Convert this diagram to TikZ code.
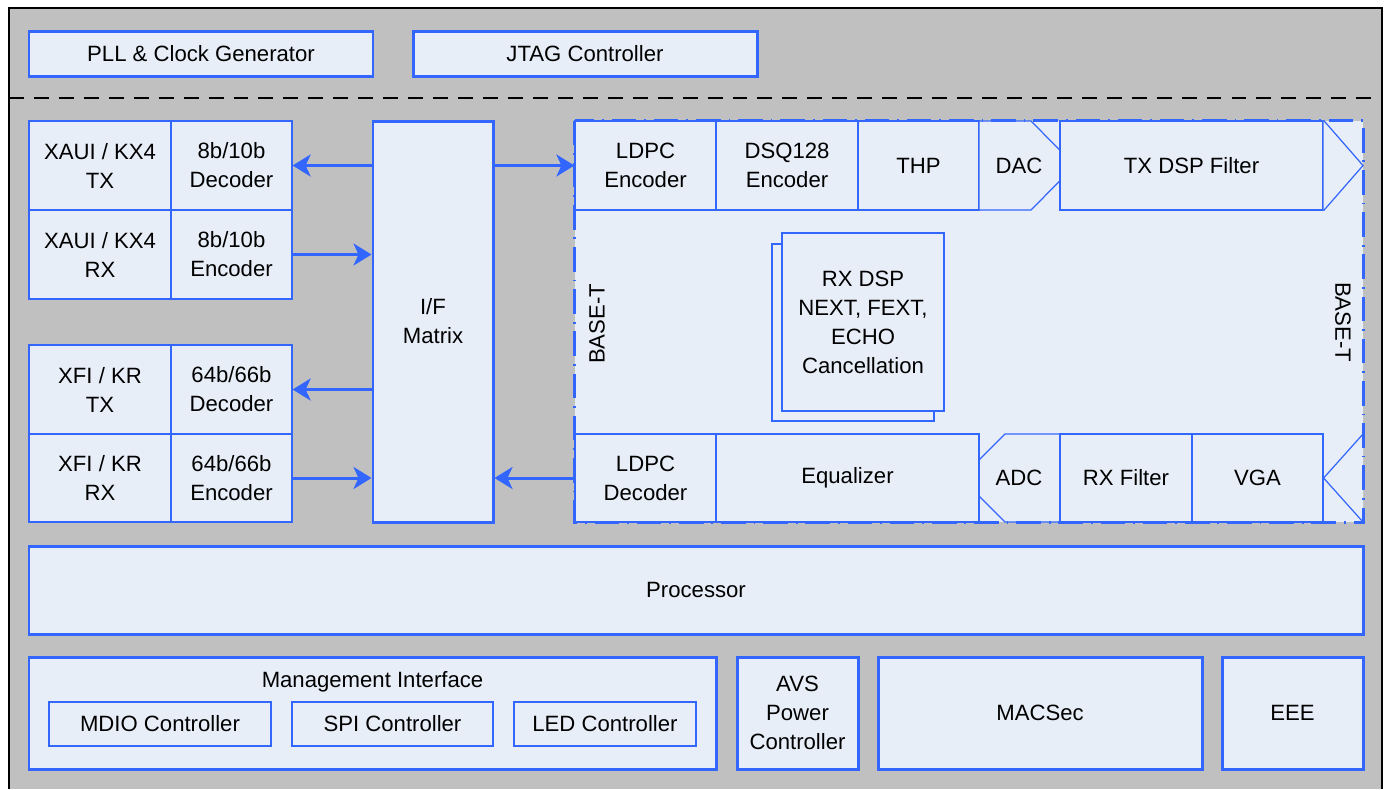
\documentclass[tikz,border=0pt]{standalone}
\usepackage{fontspec}
\setmainfont{Liberation Sans}
\usepackage{tikz}
\usetikzlibrary{arrows.meta}
\usepackage{xcolor}
\definecolor{chipblue}{RGB}{51,102,255}
\definecolor{chipfill}{RGB}{232,238,248}
\definecolor{chipgray}{RGB}{192,192,192}

\begin{document}
\begin{tikzpicture}[
    x=0.02cm, y=-0.02cm,
    thk/.style={draw=chipblue, fill=chipfill, line width=1.7pt, inner sep=0pt, align=center},
    thn/.style={draw=chipblue, fill=chipfill, line width=0.7pt, inner sep=0pt, align=center},
    wh/.style 2 args={minimum width=#1*0.02cm, minimum height=#2*0.02cm},
    lbl/.style={inner sep=0pt, align=center},
    link/.style={draw=chipblue, line width=1.7pt,
                 -{Stealth[length=3.6mm, width=4.4mm, inset=1mm]}},
    basetline/.style={draw=chipblue, line width=1.7pt,
                 dash pattern=on 14pt off 4.5pt on 1pt off 4.5pt},
    font=\fontsize{12.6}{16.5}\selectfont
]
\useasboundingbox (0,0) rectangle (1385,789);

% Chip outline and divider
\fill[chipgray] (9,8) rectangle (1382,789);
\draw[line width=1.1pt] (9,789) -- (9,8) -- (1382,8) -- (1382,789);
\draw[line width=1.1pt, dash pattern=on 8.5pt off 5.7pt] (9,98) -- (1382,98);

% Clock and test row
\node[thk, wh={344}{45}] (pll)  at (201,53.5) {PLL \& Clock Generator};
\node[thk, wh={344}{45}] (jtag) at (585,53.5) {JTAG Controller};

% XAUI / KX4 block
\node[thn, wh={142}{89}] (xautx) at (100,165.5)   {XAUI / KX4\\TX};
\node[thn, wh={121}{89}] (dec8)  at (231.5,165.5) {8b/10b\\Decoder};
\node[thn, wh={142}{89}] (xaurx) at (100,254.5)   {XAUI / KX4\\RX};
\node[thn, wh={121}{89}] (enc8)  at (231.5,254.5) {8b/10b\\Encoder};

% XFI / KR block
\node[thn, wh={142}{89}] (xfitx) at (100,389.5)   {XFI / KR\\TX};
\node[thn, wh={121}{89}] (dec64) at (231.5,389.5) {64b/66b\\Decoder};
\node[thn, wh={142}{88}] (xfirx) at (100,478)     {XFI / KR\\RX};
\node[thn, wh={121}{88}] (enc64) at (231.5,478)   {64b/66b\\Encoder};

% Interface matrix
\node[thk, wh={120}{401}] (ifm) at (433,321.5) {I/F\\Matrix};

% BASE-T region
\node[fill=chipfill, inner sep=0pt, wh={788}{401}] (baset) at (969,321.5) {};

% TX path (top row)
\node[thn, wh={141}{89}] (lenc) at (645.5,165.5) {LDPC\\Encoder};
\node[thn, wh={142}{89}] (dsq)  at (787,165.5)   {DSQ128\\Encoder};
\node[thn, wh={121}{89}] (thp)  at (918.5,165.5) {THP};
\draw[thn] (979,121) -- (1031,121) -- (1075,165.5) -- (1031,210) -- (979,210) -- cycle;
\node[lbl] (dac) at (1019,165.5) {DAC};
\node[thn, wh={263}{89}] (txf)  at (1191.5,165.5) {TX DSP Filter};
\draw[thn] (txf.north east) -- (1363,165.5) -- (txf.south east);

% RX path (bottom row)
\draw[thn] (1060,434) -- (1005,434) -- (961,478) -- (1005,522) -- (1060,522) -- cycle;
\node[lbl] (adc) at (1019,478) {ADC};
\node[thn, wh={141}{88}] (ldec) at (645.5,478) {LDPC\\Decoder};
\node[thn, wh={263}{88}] (equ)  at (847.5,478) {Equalizer};
\node[thn, wh={132}{88}] (rxf)  at (1126,478)  {RX Filter};
\node[thn, wh={131}{88}] (vga)  at (1257.5,478) {VGA};
\draw[thn] (1363,434) -- (vga.east) -- (1363,522);

% RX DSP (stacked)
\node[thn, wh={162}{177}] (rxdspb) at (853,332.5) {};
\node[thn, wh={162}{178}] (rxdsp)  at (863,322) {RX DSP\\NEXT, FEXT,\\ECHO\\Cancellation};

% BASE-T border and labels
\draw[basetline] (baset.north west) rectangle (baset.south east);
\node[lbl, rotate=90]  (basel) at (597,324)  {BASE-T};
\node[lbl, rotate=-90] (baser) at (1343,322) {BASE-T};

% Links to and from the matrix
\draw[link] (ifm.west |- dec8.east) -- (dec8.east);
\draw[link] (enc8.east) -- (ifm.west |- enc8.east);
\draw[link] (ifm.west |- dec64.east) -- (dec64.east);
\draw[link] (enc64.east) -- (ifm.west |- enc64.east);
\draw[link] (ifm.east |- lenc.west) -- (lenc.west);
\draw[link] (ldec.west) -- (ifm.east |- ldec.west);

% Processor
\node[thk, wh={1334}{88}] (proc) at (696,590) {Processor};

% Management and bottom row
\node[thk, wh={687}{112}] (mgmt) at (372.5,713) {};
\node[lbl] (mgmtt) at (372.5,682) {Management Interface};
\node[thn, wh={222}{44}] (mdio) at (160,724)   {MDIO Controller};
\node[thn, wh={201}{44}] (spi)  at (392.5,724) {SPI Controller};
\node[thn, wh={182}{44}] (led)  at (605,724)   {LED Controller};
\node[thk, wh={121}{112}] (avs) at (797.5,713) {AVS\\Power\\Controller};
\node[thk, wh={324}{112}] (mac) at (1040,713)  {MACSec};
\node[thk, wh={141}{112}] (eee) at (1292.5,713) {EEE};

\end{tikzpicture}
\end{document}
